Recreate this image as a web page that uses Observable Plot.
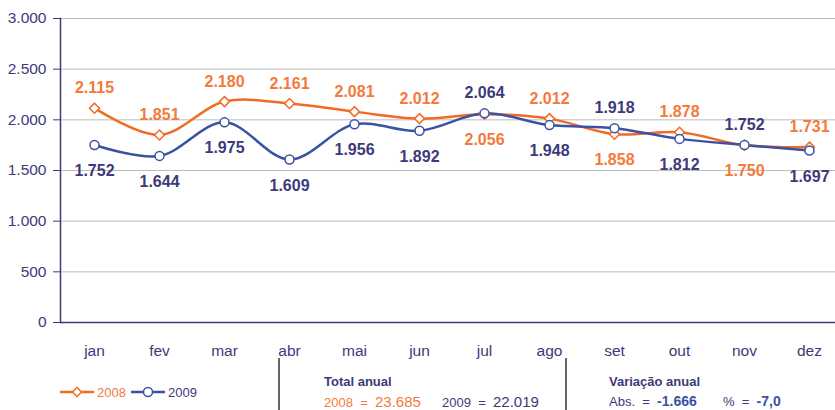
<!DOCTYPE html>
<html><head><meta charset="utf-8">
<script src="https://cdn.jsdelivr.net/npm/d3@7"></script>
<script src="https://cdn.jsdelivr.net/npm/@observablehq/plot@0.6"></script>
<style>
body{margin:0;background:#fff;}
#wrap{position:relative;width:835px;height:410px;overflow:hidden;background:#fff;
  font-family:"Liberation Sans",Arial,sans-serif;}
#chart{position:absolute;left:0;top:0;}
.abs{position:absolute;white-space:nowrap;line-height:1;}
.sep{position:absolute;width:2px;background:#666;}
.leg{position:absolute;top:385px;display:flex;align-items:center;font-size:13px;line-height:1;}
</style></head><body>
<div id="wrap">
  <div id="chart"></div>
  <div class="leg" id="leg2008" style="left:60px;color:#f47a3c;"></div>
  <div class="leg" id="leg2009" style="left:131px;color:#3c3a7a;"></div>
  <div class="sep" style="left:278px;top:358px;height:52px;"></div>
  <div class="sep" style="left:565px;top:358px;height:52px;"></div>
  <div class="abs" style="left:324px;top:375px;font-size:13px;font-weight:bold;color:#3c3a7a;">Total anual</div>
  <div class="abs" id="tot2008" style="left:324px;top:394px;font-size:13px;color:#f47a3c;"></div>
  <div class="abs" id="tot2009" style="left:442px;top:394px;font-size:13px;color:#3c3a7a;"></div>
  <div class="abs" style="left:609px;top:375px;font-size:13px;font-weight:bold;color:#3c3a7a;">Variação anual</div>
  <div class="abs" id="varAbs" style="left:609px;top:394px;font-size:13px;color:#3c3a7a;"></div>
  <div class="abs" id="varPct" style="left:723px;top:394px;font-size:13px;color:#3c3a7a;"></div>
</div>
<script>
const months = ["jan","fev","mar","abr","mai","jun","jul","ago","set","out","nov","dez"];
const values2008 = [2115,1851,2180,2161,2081,2012,2056,2012,1858,1878,1750,1731];
const values2009 = [1752,1644,1975,1609,1956,1892,2064,1948,1918,1812,1752,1697];
const yTicks = [0,500,1000,1500,2000,2500,3000];
const seriesNames = ["2008","2009"];

const ORANGE = "#f26b24", ORANGE_T = "#f47a3c", BLUE = "#3a52a3", NAVY = "#3c3a7a";
const loc = d3.formatLocale({decimal:",",thousands:".",grouping:[3],currency:["",""],minus:"-"});
const fmt = loc.format(",d");
const fmt1 = loc.format(".1f");

const data = months.flatMap((m,i)=>[
  {month:m, year:seriesNames[0], value:values2008[i], above: values2008[i] >= values2009[i]},
  {month:m, year:seriesNames[1], value:values2009[i], above: values2009[i] > values2008[i]}
]);
const d08 = data.filter(d=>d.year==="2008"), d09 = data.filter(d=>d.year==="2009");
const FONT = '"Liberation Sans",Arial,sans-serif';

const chart = Plot.plot({
  width:835, height:360, marginLeft:60, marginRight:0, marginTop:18, marginBottom:38,
  style:{fontFamily:FONT, background:"white", color:NAVY, overflow:"visible"},
  x:{type:"point", domain:months, range:[92.6,810.4], padding:0, label:null},
  y:{domain:[0,3000], label:null},
  marks:[
    Plot.gridY(yTicks.filter(v=>v>0), {stroke:"#bdbdbd", strokeOpacity:1, strokeWidth:1}),
    Plot.axisY({ticks:yTicks, tickFormat:fmt, tickSize:7, tickPadding:7, stroke:NAVY, fill:NAVY, fontSize:15.5, label:null}),
    Plot.frame({anchor:"left", stroke:NAVY, strokeWidth:1.5}),
    Plot.ruleY([0], {stroke:NAVY, strokeWidth:1.5}),
    Plot.axisX({tickSize:0, tickPadding:22, fill:NAVY, fontSize:15.5, label:null}),
    Plot.line(d08, {x:"month", y:"value", stroke:ORANGE, strokeWidth:2.5, curve:"catmull-rom"}),
    Plot.line(d09, {x:"month", y:"value", stroke:BLUE, strokeWidth:2.5, curve:"catmull-rom"}),
    Plot.dot(d08, {x:"month", y:"value", symbol:"diamond2", r:4.5, fill:"white", stroke:ORANGE, strokeWidth:1.5}),
    Plot.dot(d09, {x:"month", y:"value", symbol:"circle", r:4.5, fill:"white", stroke:BLUE, strokeWidth:1.5}),
    Plot.text(data.filter(d=>d.above), {x:"month", y:"value", text:d=>fmt(d.value), dy:-20,
      fill:d=>d.year==="2008"?ORANGE_T:NAVY, fontSize:16, fontWeight:"bold"}),
    Plot.text(data.filter(d=>!d.above), {x:"month", y:"value", text:d=>fmt(d.value), dy:26,
      fill:d=>d.year==="2008"?ORANGE_T:NAVY, fontSize:16, fontWeight:"bold"})
  ]
});
document.getElementById("chart").appendChild(chart);

function swatch(color, marker){
  const sym = marker==="diamond"
    ? `<path d="M17 2.5 L21.5 7 L17 11.5 L12.5 7 Z" fill="white" stroke="${color}" stroke-width="1.5"/>`
    : `<circle cx="17" cy="7" r="4.5" fill="white" stroke="${color}" stroke-width="1.5"/>`;
  return `<svg width="34" height="14" style="margin-right:3px"><line x1="0" y1="7" x2="34" y2="7" stroke="${color}" stroke-width="2.5"/>${sym}</svg>`;
}
document.getElementById("leg2008").innerHTML = swatch(ORANGE,"diamond") + "<span>"+seriesNames[0]+"</span>";
document.getElementById("leg2009").innerHTML = swatch(BLUE,"circle") + "<span>"+seriesNames[1]+"</span>";

const tot08 = d3.sum(values2008), tot09 = d3.sum(values2009);
const diff = tot09 - tot08, pct = diff / tot08 * 100;
document.getElementById("tot2008").innerHTML = `${seriesNames[0]}&nbsp; = &nbsp;<span style="font-size:15px">${fmt(tot08)}</span>`;
document.getElementById("tot2009").innerHTML = `${seriesNames[1]}&nbsp; = &nbsp;<span style="font-size:15px">${fmt(tot09)}</span>`;
document.getElementById("varAbs").innerHTML = `Abs. &nbsp;= &nbsp;<b style="color:${BLUE};font-size:14px">${fmt(diff)}</b>`;
document.getElementById("varPct").innerHTML = `% &nbsp;= &nbsp;<b style="color:${BLUE};font-size:14px">${fmt1(pct)}</b>`;
</script>
</body></html>
